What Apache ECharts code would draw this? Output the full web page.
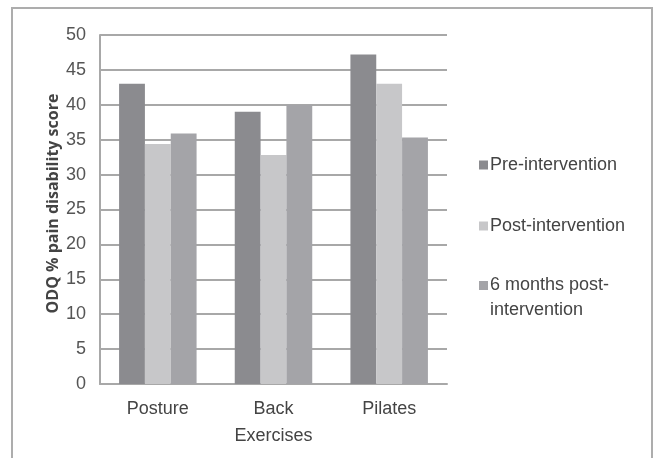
<!DOCTYPE html>
<html>
<head>
<meta charset="utf-8">
<script src="https://cdn.jsdelivr.net/npm/echarts@6/dist/echarts.min.js"></script>
<style>
html,body{margin:0;padding:0;background:#fff;overflow:hidden;}
#chart{position:absolute;left:0;top:0;width:654px;height:458px;}
#frame{position:absolute;left:11px;top:7px;width:642px;height:520px;box-sizing:border-box;border:2px solid #adadad;pointer-events:none;}
</style>
</head>
<body>
<div id="chart"></div>
<div id="frame"></div>
<script>
const categories = ['Posture', 'Back\nExercises', 'Pilates'];
const seriesNames = ['Pre-intervention', 'Post-intervention', '6 months post-intervention'];
const preIntervention = [43, 39, 47.2];
const postIntervention = [34.4, 32.8, 43];
const sixMonthsPost = [35.9, 40, 35.3];
const yTicks = [0, 5, 10, 15, 20, 25, 30, 35, 40, 45, 50];
const yAxisTitle = 'ODQ % pain disability score';

const colors = ['#8b8b8f', '#c7c7c9', '#a4a4a8'];
const values = [preIntervention, postIntervention, sixMonthsPost];
const font = '"Liberation Sans", Arial, sans-serif';

const chart = echarts.init(document.getElementById('chart'), null, {renderer: 'canvas'});

const legendTops = [153, 214, 248];
const legends = seriesNames.map((name, i) => ({
  data: [name],
  orient: 'vertical',
  left: 479,
  top: legendTops[i],
  padding: 0,
  itemWidth: 9,
  itemHeight: 9,
  selectedMode: false,
  icon: 'rect',
  formatter: n => n === '6 months post-intervention' ? ' \n6 months post-\nintervention' : n,
  textStyle: {
    fontFamily: font,
    fontSize: 18,
    color: '#444',
    lineHeight: i === 2 ? 25 : 24,
    padding: [0, 0, 0, -3]
  }
}));

chart.setOption({
  animation: false,
  color: colors,
  grid: {left: 100, right: 207, top: 35, bottom: 74, containLabel: false},
  legend: legends,
  xAxis: {
    type: 'category',
    data: categories,
    axisLine: {show: true, lineStyle: {color: '#a8a8a8', width: 2}},
    axisTick: {show: false},
    axisLabel: {fontFamily: font, fontSize: 18, color: '#444', lineHeight: 27, margin: 12}
  },
  yAxis: {
    type: 'value',
    min: 0,
    max: 50,
    interval: 5,
    name: yAxisTitle,
    nameLocation: 'middle',
    nameGap: 39,
    nameMoveOverlap: false,
    nameTextStyle: {fontFamily: '"Open Sans", sans-serif', fontWeight: 'bold', fontSize: 16, color: '#444', padding: [0, 0, 0, 12]},
    axisLine: {show: true, lineStyle: {color: '#a8a8a8', width: 2}},
    axisTick: {show: false},
    splitLine: {show: true, lineStyle: {color: '#a8a8a8', width: 2}},
    axisLabel: {
      fontFamily: font, fontSize: 18, color: '#555', margin: 14,
      formatter: v => yTicks.includes(v) ? String(v) : ''
    }
  },
  series: values.map((d, i) => ({
    name: seriesNames[i],
    type: 'bar',
    data: d,
    barGap: '0%',
    barCategoryGap: '33%',
    itemStyle: {color: colors[i]}
  }))
});
</script>
</body>
</html>
